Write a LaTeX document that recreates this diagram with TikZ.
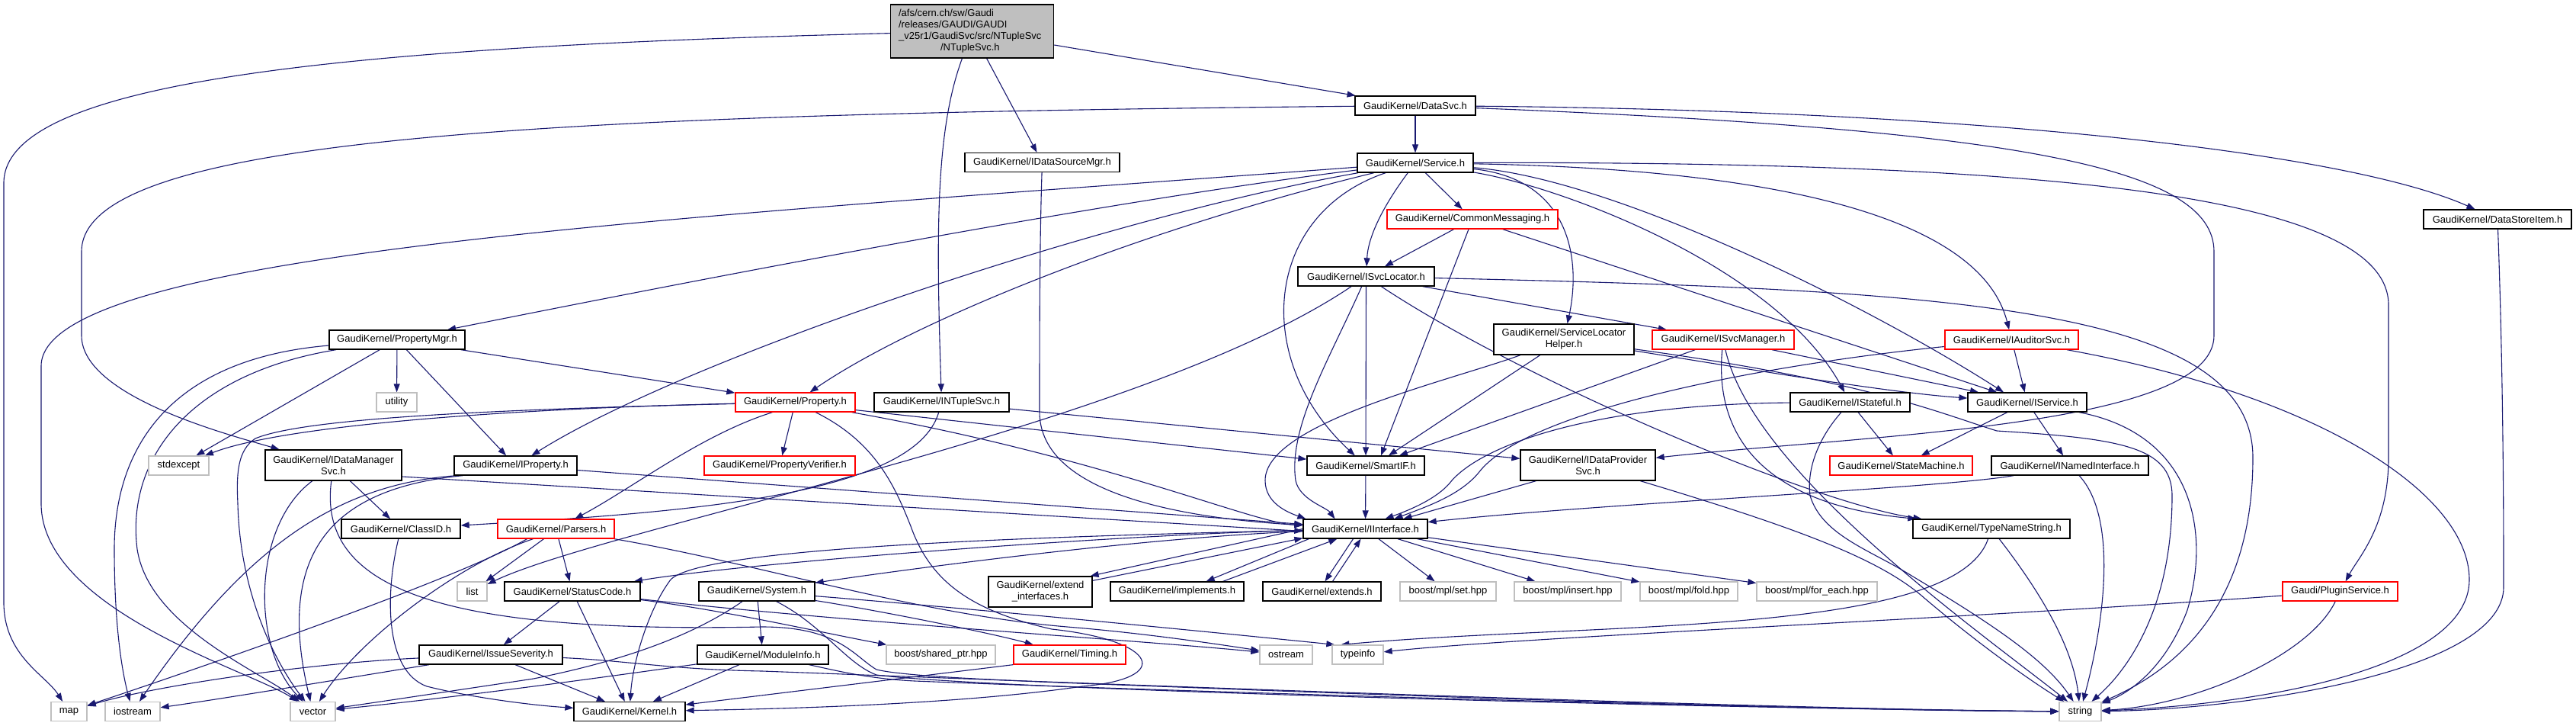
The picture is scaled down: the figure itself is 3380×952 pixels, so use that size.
\documentclass[tikz,border=0pt]{standalone}
\usepackage{fontspec}
\setmainfont{Liberation Sans}
\usetikzlibrary{arrows.meta,calc,backgrounds}
\definecolor{edgec}{HTML}{191970}
\definecolor{redb}{HTML}{FF0000}
\definecolor{greyb}{HTML}{BFBFBF}
\definecolor{rootfill}{HTML}{BFBFBF}
\newcommand\dxfont{\fontsize{13}{15}\selectfont}
\tikzset{
  nd/.style={rectangle, draw, line width=1.3pt, fill=white, minimum height=25pt, inner xsep=1pt, inner ysep=1pt, font=\dxfont, align=center},
  kb/.style={nd, draw=black},
  rb/.style={nd, draw=redb},
  gb/.style={nd, draw=greyb},
  edg/.style={draw=edgec, line width=1.1pt, -{Triangle[length=11pt,width=8pt]}},
}
\begin{document}
\begin{tikzpicture}[x=1pt,y=-1pt]
\useasboundingbox (0,0) rectangle (3380,952);
% ---------- nodes ----------
\node[kb, fill=rootfill, minimum width=214pt, minimum height=70pt, text width=193pt, align=left] (root) at (1275.6,41) {/afs/cern.ch/sw/Gaudi\\/releases/GAUDI/GAUDI\\\_v25r1/GaudiSvc/src/NTupleSvc\\\hspace*{55pt}/NTupleSvc.h};
\node[kb, minimum width=158pt] (DataSvc) at (1857,138.5) {GaudiKernel/DataSvc.h};
\node[kb, minimum width=203pt] (IDataSourceMgr) at (1367.5,213) {GaudiKernel/IDataSourceMgr.h};
\node[kb, minimum width=152pt] (Service) at (1857,213.5) {GaudiKernel/Service.h};
\node[rb, minimum width=224pt] (CommonMessaging) at (1932,287.5) {GaudiKernel/CommonMessaging.h};
\node[kb, minimum width=194pt] (DataStoreItem) at (3277,287.5) {GaudiKernel/DataStoreItem.h};
\node[kb, minimum width=179pt] (ISvcLocator) at (1792.5,362.5) {GaudiKernel/ISvcLocator.h};
\node[kb, minimum width=178pt] (PropertyMgr) at (521,445.5) {GaudiKernel/PropertyMgr.h};
\node[kb, minimum width=184pt, minimum height=40pt] (ServiceLocatorHelper) at (2052,445) {GaudiKernel/ServiceLocator\\Helper.h};
\node[rb, minimum width=186pt] (ISvcManager) at (2261,445.5) {GaudiKernel/ISvcManager.h};
\node[rb, minimum width=175pt] (IAuditorSvc) at (2639.5,445.5) {GaudiKernel/IAuditorSvc.h};
\node[gb, minimum width=53pt] (utility) at (520.5,527.5) {utility};
\node[rb, minimum width=157pt] (Property) at (1043.5,527.5) {GaudiKernel/Property.h};
\node[kb, minimum width=177pt] (INTupleSvc) at (1235.5,527.5) {GaudiKernel/INTupleSvc.h};
\node[kb, minimum width=157pt] (IStateful) at (2427.5,527.5) {GaudiKernel/IStateful.h};
\node[kb, minimum width=156pt] (IService) at (2660,527.5) {GaudiKernel/IService.h};
\node[gb, minimum width=79pt] (stdexcept) at (234.5,610.5) {stdexcept};
\node[kb, minimum width=179pt, minimum height=40pt] (IDataManagerSvc) at (437.5,610) {GaudiKernel/IDataManager\\Svc.h};
\node[kb, minimum width=161pt] (IProperty) at (676.5,610.5) {GaudiKernel/IProperty.h};
\node[rb, minimum width=198pt] (PropertyVerifier) at (1023,610.5) {GaudiKernel/PropertyVerifier.h};
\node[kb, minimum width=154pt] (SmartIF) at (1792,610.5) {GaudiKernel/SmartIF.h};
\node[kb, minimum width=177pt, minimum height=40pt] (IDataProviderSvc) at (2083.5,610) {GaudiKernel/IDataProvider\\Svc.h};
\node[rb, minimum width=187pt] (StateMachine) at (2494.5,610.5) {GaudiKernel/StateMachine.h};
\node[kb, minimum width=206pt] (INamedInterface) at (2716,610.5) {GaudiKernel/INamedInterface.h};
\node[kb, minimum width=156pt] (ClassID) at (526,693.5) {GaudiKernel/ClassID.h};
\node[rb, minimum width=153pt] (Parsers) at (729.5,693.5) {GaudiKernel/Parsers.h};
\node[kb, minimum width=163pt] (IInterface) at (1791.5,693.5) {GaudiKernel/IInterface.h};
\node[kb, minimum width=206pt] (TypeNameString) at (2613,693.5) {GaudiKernel/TypeNameString.h};
\node[gb, minimum width=39pt] (list) at (619.5,775.5) {list};
\node[kb, minimum width=178pt] (StatusCode) at (751,775.5) {GaudiKernel/StatusCode.h};
\node[kb, minimum width=152pt] (System) at (993,775.5) {GaudiKernel/System.h};
\node[kb, minimum width=136pt, minimum height=40pt] (extendinterfaces) at (1365,776) {GaudiKernel/extend\\\_interfaces.h};
\node[kb, minimum width=175pt] (implements) at (1544.5,775.5) {GaudiKernel/implements.h};
\node[kb, minimum width=155pt] (extends) at (1734.5,775.5) {GaudiKernel/extends.h};
\node[gb, minimum width=126pt] (mplset) at (1900,775.5) {boost/mpl/set.hpp};
\node[gb, minimum width=140pt] (mplinsert) at (2057,775.5) {boost/mpl/insert.hpp};
\node[gb, minimum width=128pt] (mplfold) at (2216,775.5) {boost/mpl/fold.hpp};
\node[gb, minimum width=158pt] (mplforeach) at (2384,775.5) {boost/mpl/for\_each.hpp};
\node[rb, minimum width=151pt] (PluginService) at (3070.5,775.5) {Gaudi/PluginService.h};
\node[kb, minimum width=188pt] (IssueSeverity) at (644,858.5) {GaudiKernel/IssueSeverity.h};
\node[kb, minimum width=172pt] (ModuleInfo) at (1001,858.5) {GaudiKernel/ModuleInfo.h};
\node[gb, minimum width=143pt] (sharedptr) at (1234.5,858.5) {boost/shared\_ptr.hpp};
\node[rb, minimum width=147pt] (Timing) at (1403.5,858.5) {GaudiKernel/Timing.h};
\node[gb, minimum width=69pt] (ostream) at (1687.5,858.5) {ostream};
\node[gb, minimum width=67pt] (typeinfo) at (1781.5,858.5) {typeinfo};
\node[gb, minimum width=47pt] (map) at (90.5,933) {map};
\node[gb, minimum width=72pt] (iostream) at (174,933) {iostream};
\node[gb, minimum width=59pt] (vector) at (410.5,933) {vector};
\node[kb, minimum width=146pt] (Kernel) at (826,933) {GaudiKernel/Kernel.h};
\node[gb, minimum width=55pt] (string) at (2729.5,933) {string};
% ---------- edges ----------
\begin{scope}[on background layer]
\fill[white] (0,0) rectangle (3380,952);
% root
\draw[edg] (root) .. controls (420,62) and (5,110) .. (5,240) -- (5,790) .. controls (5,860) and (60,885) .. (map);
\draw[edg] (root) .. controls (1228,170) and (1228,300) .. (INTupleSvc);
\draw[edg] (root) -- (IDataSourceMgr);
\draw[edg] (root) -- (DataSvc);
% DataSvc
\draw[edg] (DataSvc) -- (Service);
\draw[edg] (DataSvc) .. controls (700,150) and (107,180) .. (107,330) -- (107,440) .. controls (107,520) and (300,570) .. (IDataManagerSvc);
\draw[edg] (DataSvc) .. controls (2600,145) and (3080,200) .. (DataStoreItem);
\draw[edg] (DataSvc) .. controls (2650,170) and (2905,220) .. (2905,330) -- (2905,440) .. controls (2905,560) and (2450,570) .. (IDataProviderSvc);
% IDataSourceMgr, INTupleSvc
\draw[edg] (IDataSourceMgr) .. controls (1364,320) and (1364,450) .. (1364,540) .. controls (1364,650) and (1560,680) .. (IInterface);
\draw[edg] (INTupleSvc) -- (IDataProviderSvc);
\draw[edg] (INTupleSvc) .. controls (1200,650) and (900,672) .. (ClassID);
% Service
\draw[edg] (Service) .. controls (900,285) and (54,330) .. (54,480) -- (54,660) .. controls (54,800) and (330,880) .. (vector);
\draw[edg] (Service) .. controls (1400,270) and (800,390) .. (PropertyMgr);
\draw[edg] (Service) .. controls (1450,285) and (900,470) .. (IProperty);
\draw[edg] (Service) .. controls (1500,300) and (1200,420) .. (Property);
\draw[edg] (Service) -- (CommonMessaging);
\draw[edg] (Service) .. controls (1815,270) and (1795,310) .. (ISvcLocator);
\draw[edg] (Service) .. controls (1660,280) and (1640,470) .. (SmartIF);
\draw[edg] (Service) .. controls (2060,235) and (2075,340) .. (ServiceLocatorHelper);
\draw[edg] (Service) .. controls (2050,245) and (2330,350) .. (IStateful);
\draw[edg] (Service) .. controls (2120,235) and (2450,400) .. ($(IService.north)+(-31,0)$);
\draw[edg] (Service) .. controls (2350,222) and (2600,290) .. (IAuditorSvc);
\draw[edg] (Service) .. controls (2650,212) and (3134,250) .. (3134,400) -- (3134,600) .. controls (3134,690) and (3095,730) .. (PluginService);
% CommonMessaging
\draw[edg] (CommonMessaging) -- (ISvcLocator);
\draw[edg] ($(CommonMessaging.south)+(-5,0)$) -- ($(SmartIF.north)+(20,0)$);
\draw[edg] (CommonMessaging) -- (IService);
% ISvcLocator
\draw[edg] (ISvcLocator) -- (ISvcManager);
\draw[edg] (ISvcLocator) -- (SmartIF);
\draw[edg] (ISvcLocator) .. controls (1745,470) and (1690,560) .. (1700,630) .. controls (1705,655) and (1740,665) .. ($(IInterface.north)+(-40,0)$);
\draw[edg] (ISvcLocator) .. controls (2000,500) and (2380,660) .. (TypeNameString);
\draw[edg] (ISvcLocator) .. controls (1500,560) and (800,690) .. (list);
\draw[edg] (ISvcLocator) .. controls (2550,380) and (2956,400) .. (2956,600) .. controls (2956,800) and (2850,880) .. (string);
% PropertyMgr
\draw[edg] (PropertyMgr) -- (utility);
\draw[edg] (PropertyMgr) -- (stdexcept);
\draw[edg] (PropertyMgr) -- (IProperty);
\draw[edg] (PropertyMgr) -- (Property);
\draw[edg] (PropertyMgr) .. controls (230,470) and (150,580) .. (150,720) .. controls (150,820) and (160,880) .. (iostream);
\draw[edg] (PropertyMgr) .. controls (250,490) and (165,600) .. (180,720) .. controls (195,820) and (340,880) .. (vector);
% Property
\draw[edg] (Property) .. controls (700,535) and (380,555) .. (stdexcept);
\draw[edg] (Property) .. controls (650,537) and (400,548) .. (335,575) .. controls (312,590) and (310,620) .. (312,660) .. controls (315,790) and (370,880) .. (vector);
\draw[edg] (Property) -- (PropertyVerifier);
\draw[edg] ($(Property.south)+(-30,0)$) .. controls (920,570) and (830,640) .. (Parsers);
\draw[edg] ($(Property.south east)+(0,-3)$) -- (SmartIF);
\draw[edg] ($(Property.south east)+(-5,0)$) .. controls (1450,600) and (1640,685) .. (IInterface);
\draw[edg] (Property) .. controls (1150,580) and (1175,640) .. (1195,690) .. controls (1220,760) and (1270,800) .. (1380,825) .. controls (1520,840) and (1540,890) .. (1420,900) .. controls (1250,925) and (1000,930) .. (Kernel);
% IProperty
\draw[edg] ($(IProperty.south west)+(4,0)$) .. controls (440,635) and (320,720) .. (iostream);
\draw[edg] ($(IProperty.south west)+(12,0)$) .. controls (440,640) and (360,720) .. (vector);
\draw[edg] (IProperty) -- (IInterface);
% IDataManagerSvc
\draw[edg] (IDataManagerSvc) -- (ClassID);
\draw[edg] (IDataManagerSvc) .. controls (330,690) and (330,850) .. (vector);
\draw[edg] ($(IDataManagerSvc.east)+(0,15)$) -- ($(IInterface.west)+(0,3)$);
\draw[edg] (IDataManagerSvc) .. controls (415,780) and (600,830) .. (1000,822) .. controls (1100,822) and (1120,860) .. (1150,878) .. controls (1200,890) and (1400,895) .. (1650,905) .. controls (2200,925) and (2500,932) .. (string);
% ServiceLocatorHelper
\draw[edg] (ServiceLocatorHelper) -- ($(SmartIF.north)+(30,0)$);
\draw[edg] (ServiceLocatorHelper) .. controls (2300,485) and (2480,515) .. (IService);
\draw[edg] (ServiceLocatorHelper) .. controls (2450,500) and (2540,540) .. (2620,565) .. controls (2780,575) and (2850,585) .. (2850,650) .. controls (2850,800) and (2790,880) .. (string);
\draw[edg] (ServiceLocatorHelper) .. controls (1900,500) and (1660,555) .. (1660,630) .. controls (1660,660) and (1690,672) .. ($(IInterface.north west)+(4,0)$);
% ISvcManager
\draw[edg] (ISvcManager) -- ($(SmartIF.north)+(44,0)$);
\draw[edg] (ISvcManager) -- (IService);
\draw[edg] (ISvcManager) .. controls (2250,560) and (2300,660) .. ($(TypeNameString.north west)+(5,0)$);
\draw[edg] (ISvcManager) .. controls (2300,620) and (2600,830) .. (string);
% IAuditorSvc
\draw[edg] (IAuditorSvc) -- (IService);
\draw[edg] (IAuditorSvc) .. controls (3050,520) and (3240,650) .. (3240,760) .. controls (3240,880) and (2950,925) .. (string);
\draw[edg] (IAuditorSvc) .. controls (2300,480) and (2000,540) .. (1940,620) .. controls (1915,650) and (1870,665) .. ($(IInterface.north)+(38,0)$);
% IStateful
\draw[edg] (IStateful) -- (StateMachine);
\draw[edg] (IStateful) .. controls (2100,530) and (1950,580) .. (1905,630) .. controls (1890,650) and (1860,665) .. ($(IInterface.north)+(26,0)$);
\draw[edg] (IStateful) .. controls (2390,570) and (2370,610) .. (2375,650) .. controls (2390,700) and (2450,720) .. (2500,750) .. controls (2600,810) and (2680,860) .. (string);
% IService
\draw[edg] (IService) -- (StateMachine);
\draw[edg] (IService) -- (INamedInterface);
\draw[edg] (IService) .. controls (2880,570) and (2900,700) .. (2870,800) .. controls (2840,880) and (2790,910) .. (string);
% INamedInterface
\draw[edg] (INamedInterface) .. controls (2550,640) and (2100,660) .. (IInterface);
\draw[edg] (INamedInterface) .. controls (2780,680) and (2760,820) .. (string);
% TypeNameString
\draw[edg] (TypeNameString) .. controls (2565,835) and (2100,815) .. ($(typeinfo.north west)+(12,0)$);
\draw[edg] (TypeNameString) .. controls (2680,780) and (2720,850) .. (string);
% PluginService
\draw[edg] (PluginService) .. controls (2600,810) and (2000,835) .. (typeinfo);
\draw[edg] (PluginService) .. controls (3030,860) and (2880,925) .. (string);
% DataStoreItem
\draw[edg] (DataStoreItem) .. controls (3285,500) and (3285,700) .. (3285,770) .. controls (3285,880) and (2950,930) .. (string);
% IDataProviderSvc
\draw[edg] ($(IDataProviderSvc.south west)+(21,0)$) -- ($(IInterface.north)+(50,0)$);
\draw[edg] (IDataProviderSvc) .. controls (2350,690) and (2460,730) .. (2520,780) .. controls (2590,840) and (2660,890) .. (string);
% SmartIF
\draw[edg] (SmartIF) -- (IInterface);
% ClassID
\draw[edg] (ClassID) .. controls (505,780) and (505,880) .. (560,900) .. controls (620,915) and (700,925) .. (Kernel);
% Parsers
\draw[edg] ($(Parsers.south)+(-38,0)$) .. controls (600,760) and (250,880) .. (map);
\draw[edg] ($(Parsers.south)+(-30,0)$) .. controls (600,740) and (470,840) .. (vector);
\draw[edg] ($(Parsers.south)+(-16,0)$) -- (list);
\draw[edg] (Parsers) -- (StatusCode);
\draw[edg] (Parsers) .. controls (1000,740) and (1200,805) .. (1400,822) .. controls (1500,830) and (1600,845) .. (ostream);
% StatusCode
\draw[edg] (StatusCode) -- (IssueSeverity);
\draw[edg] (StatusCode) -- (Kernel);
\draw[edg] (StatusCode) .. controls (950,800) and (1080,830) .. (sharedptr);
\draw[edg] (StatusCode) .. controls (1100,815) and (1500,840) .. (ostream);
% System
\draw[edg] (System) -- (ModuleInfo);
\draw[edg] (System) .. controls (1150,800) and (1300,830) .. (Timing);
\draw[edg] (System) .. controls (900,840) and (800,870) .. (700,890) .. controls (600,905) and (500,920) .. (vector);
\draw[edg] (System) .. controls (1300,800) and (1600,830) .. ($(typeinfo.north west)+(4,0)$);
\draw[edg] (System) .. controls (1080,820) and (1110,870) .. (1150,885) .. controls (1300,905) and (2300,930) .. (string);
% ModuleInfo
\draw[edg] (ModuleInfo) -- (Kernel);
\draw[edg] (ModuleInfo) .. controls (850,880) and (600,915) .. (vector);
\draw[edg] (ModuleInfo) .. controls (1100,880) and (1140,890) .. (1200,893) .. controls (1500,905) and (2300,930) .. (string);
% IssueSeverity
\draw[edg] (IssueSeverity) .. controls (400,870) and (200,900) .. (map);
\draw[edg] (IssueSeverity) .. controls (450,890) and (300,915) .. (iostream);
\draw[edg] (IssueSeverity) -- (Kernel);
\draw[edg] (IssueSeverity) .. controls (820,866) and (880,878) .. (1000,880) .. controls (1400,895) and (2300,930) .. (string);
% Timing
\draw[edg] (Timing.south west) -- (Kernel);
% IInterface
\draw[edg] (IInterface) .. controls (1500,700) and (1000,735) .. (StatusCode);
\draw[edg] (IInterface) .. controls (1500,705) and (1200,745) .. (System);
\draw[edg] (IInterface) .. controls (1300,705) and (920,720) .. (880,760) .. controls (850,800) and (830,870) .. (Kernel);
\draw[edg] (IInterface.west) -- ($(extendinterfaces.north east)+(-3,0)$);
\draw[edg] ($(extendinterfaces.north east)+(0,6)$) -- ($(IInterface.south west)+(0,-1)$);
\draw[edg] ($(IInterface.south west)+(8,0)$) -- ($(implements.north east)+(-50,0)$);
\draw[edg] ($(implements.north east)+(-28,0)$) -- ($(IInterface.south west)+(45,0)$);
\draw[edg] ($(IInterface.south)+(-16,0)$) -- ($(extends.north)+(4,0)$);
\draw[edg] ($(extends.north)+(14,0)$) -- ($(IInterface.south)+(-6,0)$);
\draw[edg] (IInterface) -- (mplset);
\draw[edg] (IInterface) -- (mplinsert);
\draw[edg] (IInterface) -- (mplfold);
\draw[edg] (IInterface) -- (mplforeach);
\end{scope}
\end{tikzpicture}
\end{document}
